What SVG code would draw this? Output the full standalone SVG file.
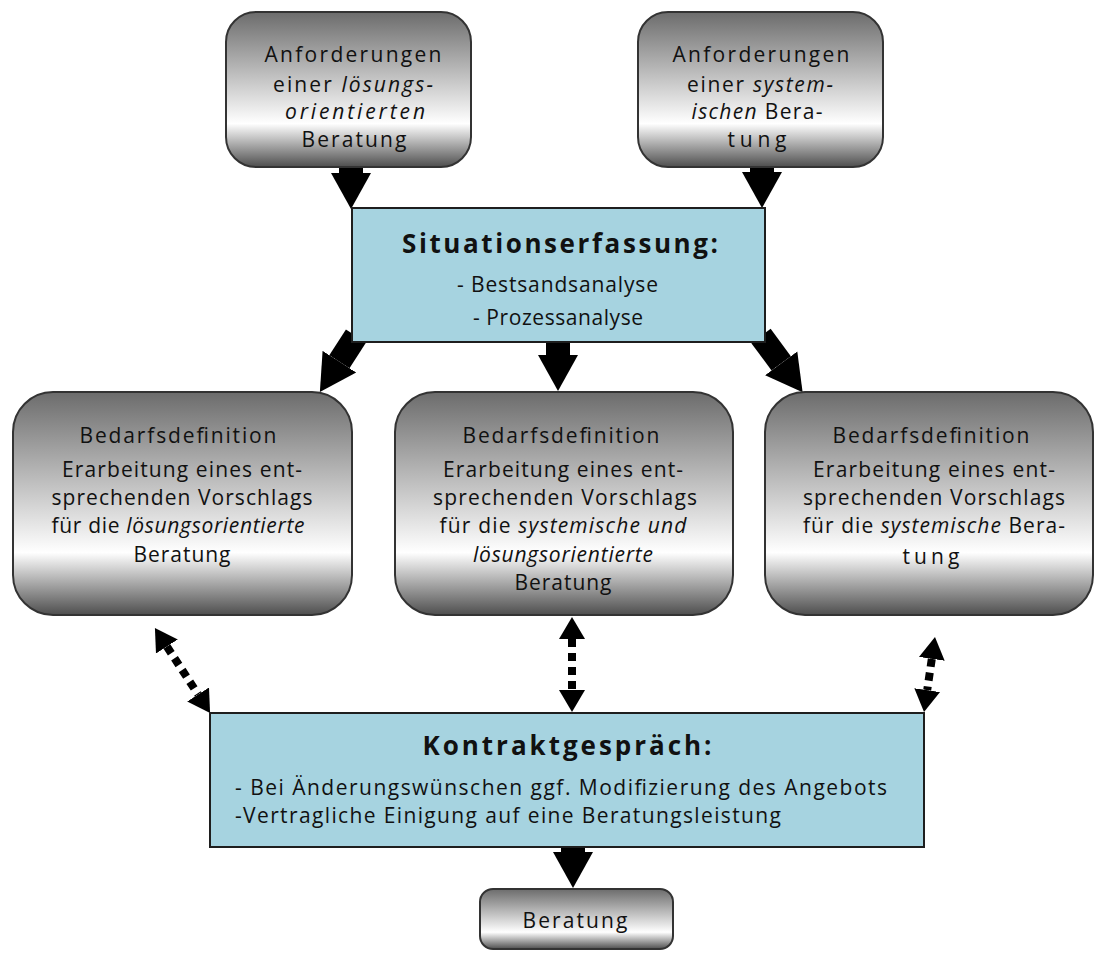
<svg xmlns="http://www.w3.org/2000/svg" width="1098" height="956" viewBox="0 0 1098 956">
  <defs>
    <linearGradient id="greyFill" x1="0" y1="0" x2="0" y2="1">
      <stop offset="0" stop-color="#6c6c6c"/>
      <stop offset="0.72" stop-color="#ffffff"/>
      <stop offset="1" stop-color="#4e4e4e"/>
    </linearGradient>
    <marker id="headSolid" markerUnits="userSpaceOnUse" viewBox="0 -21 38 42" markerWidth="38" markerHeight="42" refX="0" refY="0" orient="auto">
      <path d="M0,-20 L36,0 L0,20 z" fill="#000"/>
    </marker>
    <marker id="headDot" markerUnits="userSpaceOnUse" viewBox="0 -14 24 28" markerWidth="24" markerHeight="28" refX="0" refY="0" orient="auto-start-reverse">
      <path d="M0,-13 L22,0 L0,13 z" fill="#000"/>
    </marker>
    <style>
      .rnd { fill: url(#greyFill); stroke: #333; stroke-width: 2; }
      .blue { fill: #a6d3e0; stroke: #1e1e1e; stroke-width: 2; }
      .t { font-family: "Open Sans", "Liberation Sans", sans-serif; font-size: 21px; fill: #111; text-anchor: middle; }
      .tl { font-family: "Open Sans", "Liberation Sans", sans-serif; font-size: 21px; fill: #111; text-anchor: start; }
      .h { font-family: "Open Sans", "Liberation Sans", sans-serif; font-size: 26px; font-weight: 700; fill: #111; text-anchor: middle; }
      .i { font-style: italic; }
      .solid { stroke: #000; stroke-width: 24; fill: none; marker-end: url(#headSolid); }
      .dotted { stroke: #000; stroke-width: 8; stroke-dasharray: 8 6; fill: none; marker-start: url(#headDot); marker-end: url(#headDot); }
    </style>
  </defs>

  <rect width="1098" height="956" fill="#ffffff"/>

  <!-- connectors -->
  <g id="connectors">
    <line class="solid" x1="351" y1="160" x2="351" y2="173"/>
    <line class="solid" x1="762" y1="160" x2="762" y2="172"/>
    <line class="solid" x1="356" y1="336" x2="339.4" y2="361.7"/>
    <line class="solid" x1="558" y1="336" x2="558" y2="355"/>
    <line class="solid" x1="761" y1="336" x2="781.2" y2="363.3"/>
    <line class="solid" x1="573" y1="840" x2="573" y2="852"/>
    <line class="dotted" x1="166.9" y1="646.5" x2="198.1" y2="694.5"/>
    <line class="dotted" x1="572" y1="639" x2="572" y2="690"/>
    <line class="dotted" x1="931.8" y1="658.8" x2="927.2" y2="690.2"/>
  </g>

  <!-- upper requirement nodes -->
  <g id="anf-loesung">
    <rect class="rnd" x="226" y="12" width="245" height="155" rx="30" ry="30"/>
    <text class="t" x="353" y="62" textLength="177">Anforderungen</text>
    <text class="t" x="353" y="92" textLength="160">einer <tspan class="i">lösungs-</tspan></text>
    <text class="t i" x="355" y="119" textLength="140">orientierten</text>
    <text class="t" x="354" y="147" textLength="105">Beratung</text>
  </g>

  <g id="anf-system">
    <rect class="rnd" x="638" y="12" width="245" height="155" rx="30" ry="30"/>
    <text class="t" x="761" y="62" textLength="177">Anforderungen</text>
    <text class="t" x="760" y="92" textLength="146">einer <tspan class="i">system-</tspan></text>
    <text class="t" x="757" y="119" textLength="131"><tspan class="i">ischen</tspan> Bera-</text>
    <text class="t" x="757" y="147" textLength="59">tung</text>
  </g>

  <!-- situation analysis -->
  <g id="situation">
    <rect class="blue" x="352" y="208" width="413" height="134"/>
    <text class="h" x="560" y="253" textLength="316">Situationserfassung:</text>
    <text class="t" x="557.5" y="292" textLength="201">- Bestsandsanalyse</text>
    <text class="t" x="558" y="325" textLength="170">- Prozessanalyse</text>
  </g>

  <!-- needs definition nodes -->
  <g id="bedarf-loesung">
    <rect class="rnd" x="13" y="392" width="339" height="223" rx="40" ry="40"/>
    <text class="t" x="178" y="443" textLength="197">Bedarfsdefinition</text>
    <text class="t" x="182" y="477" textLength="240">Erarbeitung eines ent-</text>
    <text class="t" x="182" y="505" textLength="261">sprechenden Vorschlags</text>
    <text class="t" x="178" y="533" textLength="253">für die <tspan class="i">lösungsorientierte</tspan></text>
    <text class="t" x="182" y="562" textLength="97">Beratung</text>
  </g>

  <g id="bedarf-beide">
    <rect class="rnd" x="395" y="392" width="338" height="223" rx="40" ry="40"/>
    <text class="t" x="561" y="443" textLength="197">Bedarfsdefinition</text>
    <text class="t" x="563" y="477" textLength="240">Erarbeitung eines ent-</text>
    <text class="t" x="565" y="505" textLength="264">sprechenden Vorschlags</text>
    <text class="t" x="563" y="533" textLength="247">für die <tspan class="i">systemische und</tspan></text>
    <text class="t i" x="563" y="562" textLength="180">lösungsorientierte</text>
    <text class="t" x="563" y="590" textLength="97">Beratung</text>
  </g>

  <g id="bedarf-system">
    <rect class="rnd" x="765" y="392" width="328" height="223" rx="40" ry="40"/>
    <text class="t" x="931" y="443" textLength="197">Bedarfsdefinition</text>
    <text class="t" x="934" y="477" textLength="242">Erarbeitung eines ent-</text>
    <text class="t" x="934" y="505" textLength="262">sprechenden Vorschlags</text>
    <text class="t" x="934" y="533" textLength="262">für die <tspan class="i">systemische</tspan> Bera-</text>
    <text class="t" x="931" y="564" textLength="57">tung</text>
  </g>

  <!-- contract talk -->
  <g id="kontrakt">
    <rect class="blue" x="210" y="713" width="714" height="134"/>
    <text class="h" x="567" y="755" textLength="289">Kontraktgespräch:</text>
    <text class="tl" x="235" y="795" textLength="652">- Bei Änderungswünschen ggf. Modifizierung  des Angebots</text>
    <text class="tl" x="235" y="823" textLength="546">-Vertragliche Einigung auf eine Beratungsleistung</text>
  </g>

  <!-- consulting -->
  <g id="beratung">
    <rect class="rnd" x="480" y="889" width="193" height="60" rx="13" ry="13"/>
    <text class="t" x="575" y="928" textLength="105">Beratung</text>
  </g>
</svg>
